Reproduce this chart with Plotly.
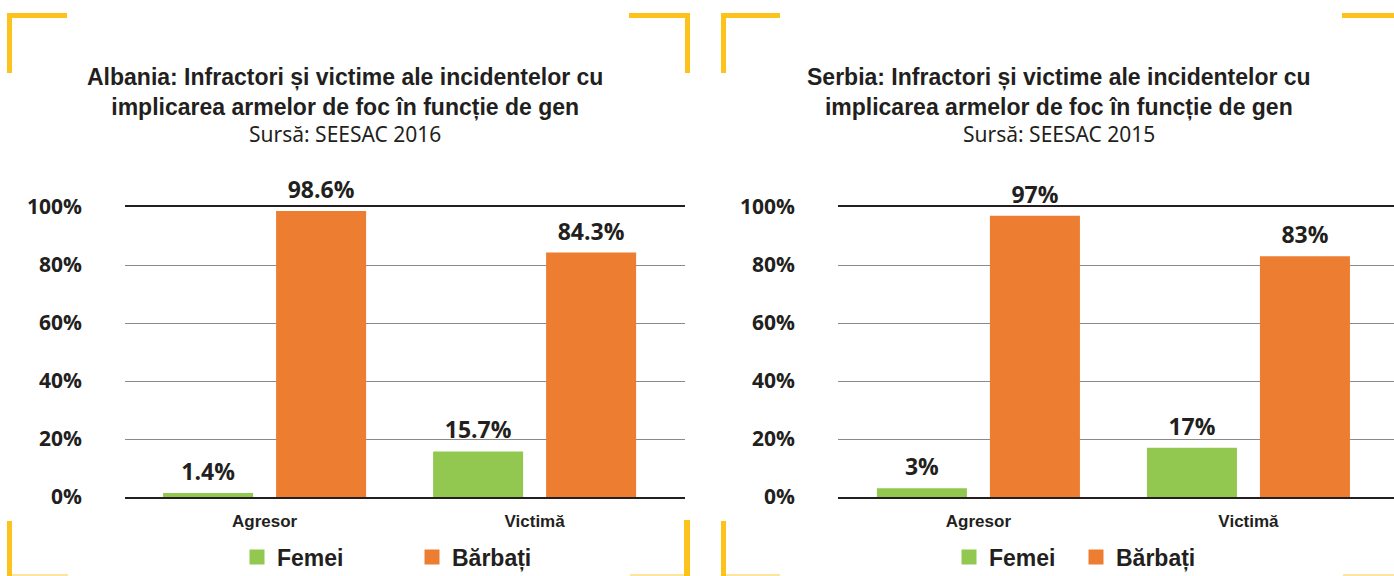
import plotly.graph_objects as go

# ---------------- data ----------------
categories = ["Agresor", "Victimă"]
series_names = ["Femei", "Bărbați"]
albania_femei = [1.4, 15.7]
albania_barbati = [98.6, 84.3]
serbia_femei = [3, 17]
serbia_barbati = [97, 83]
y_ticks = [0, 20, 40, 60, 80, 100]
y_tick_labels = ["0%", "20%", "40%", "60%", "80%", "100%"]

title_albania = "Albania: Infractori și victime ale incidentelor cu<br>implicarea armelor de foc în funcție de gen"
title_serbia = "Serbia: Infractori și victime ale incidentelor cu<br>implicarea armelor de foc în funcție de gen"
source_albania = "Sursă: SEESAC 2016"
source_serbia = "Sursă: SEESAC 2015"

# ---------------- style ----------------
W, H = 1394, 576
GREEN = "#92C84F"
ORANGE = "#ED7D31"
DARK = "#231F20"
GRID = "#8A8A8A"
YELLOW = "#FBC31C"
YELLOW_FAINT = "#FDE4A0"
COND = "Liberation Sans, Arial, sans-serif"
BOLD = "Open Sans, Arial, sans-serif"

def px(x):
    return x / W

def py(y):
    return 1 - y / H

fig = go.Figure()

panels = [
    ("x", "y", albania_femei, albania_barbati, "legend"),
    ("x2", "y2", serbia_femei, serbia_barbati, "legend2"),
]
for xa, ya, fem, bar, lg in panels:
    for name, vals, col in [(series_names[0], fem, GREEN), (series_names[1], bar, ORANGE)]:
        fig.add_trace(go.Bar(
            x=categories, y=vals, name=name, marker=dict(color=col, line=dict(width=0)),
            xaxis=xa, yaxis=ya, showlegend=False, hoverinfo="skip",
            offsetgroup=name,
        ))
    for name, vals in [(series_names[0], fem), (series_names[1], bar)]:
        fig.add_trace(go.Scatter(
            x=categories, y=vals, mode="markers+text",
            text=[f"{v}%" for v in vals], textposition="top center",
            textfont=dict(family=BOLD, size=23, color=DARK, weight="bold"),
            marker=dict(size=10, opacity=0),
            xaxis=xa, yaxis=ya, showlegend=False, hoverinfo="skip",
            offsetgroup=name, cliponaxis=False,
        ))
    for name, col in [(series_names[0], GREEN), (series_names[1], ORANGE)]:
        fig.add_trace(go.Scatter(
            x=[None], y=[None], mode="markers", name=name,
            marker=dict(symbol="square", size=15, color=col),
            xaxis=xa, yaxis=ya, legend=lg, hoverinfo="skip",
        ))

ydom = [py(497), py(207)]
xaxis_common = dict(
    type="category", showgrid=False, showline=True, mirror=True,
    linecolor=DARK, linewidth=1.5, ticks="", ticklabelstandoff=8,
    tickfont=dict(family=COND, size=17, color=DARK, weight="bold"),
    fixedrange=True,
)
yaxis_common = dict(
    range=[0, 100], tickmode="array", tickvals=y_ticks, ticktext=y_tick_labels,
    showgrid=True, gridcolor=GRID, gridwidth=1.2, zeroline=False, showline=False,
    ticks="", ticklabelstandoff=42,
    tickfont=dict(family=BOLD, size=21, color=DARK, weight="bold"),
    fixedrange=True,
)

legend_common = dict(
    orientation="h", xref="container", yref="container", xanchor="left", yanchor="middle",
    font=dict(family=COND, size=23, color=DARK, weight="bold"),
    bgcolor="rgba(0,0,0,0)", borderwidth=0,
)

fig.update_layout(
    width=W, height=H, margin=dict(l=0, r=0, t=0, b=0, autoexpand=False),
    paper_bgcolor="white", plot_bgcolor="white",
    barmode="group", bargap=0.163, bargroupgap=0.2035,
    scattermode="group",
    xaxis=dict(domain=[px(125), px(685)], range=[-0.517, 1.557], anchor="y", **xaxis_common),
    yaxis=dict(domain=ydom, anchor="x", **yaxis_common),
    xaxis2=dict(domain=[px(838), px(1394)], range=[-0.52, 1.539], anchor="y2", **xaxis_common),
    yaxis2=dict(domain=ydom, anchor="x2", **yaxis_common),
    legend=dict(x=px(237), y=py(557), entrywidth=130, **legend_common),
    legend2=dict(x=px(949), y=py(557), entrywidth=82, **legend_common),
    showlegend=True,
)

# titles
for cx, t, s in [(345, title_albania, source_albania), (1059, title_serbia, source_serbia)]:
    fig.add_annotation(x=px(cx), y=py(92), xref="paper", yref="paper", text=t,
                       showarrow=False, xanchor="center", yanchor="middle",
                       font=dict(family=COND, size=23, color=DARK, weight="bold"))
    fig.add_annotation(x=px(cx), y=py(134), xref="paper", yref="paper", text=s,
                       showarrow=False, xanchor="center", yanchor="middle",
                       font=dict(family="Noto Sans, sans-serif", size=21, color=DARK))

# corner brackets (decoration)
rects = [
    (7, 13, 67, 18, YELLOW), (7, 13, 12, 73, YELLOW),
    (629, 13, 690, 18, YELLOW), (685, 13, 690, 73, YELLOW),
    (7, 521, 12, 576, YELLOW), (12, 574, 68, 576, YELLOW_FAINT),
    (684, 520, 690, 576, YELLOW), (630, 574, 684, 576, YELLOW_FAINT),
    (721, 13, 780, 18, YELLOW), (721, 13, 726, 73, YELLOW),
    (1342, 13, 1394, 18, YELLOW),
    (721, 521, 726, 576, YELLOW), (726, 574, 780, 576, YELLOW_FAINT),
    (1343, 574, 1394, 576, YELLOW_FAINT),
]
for x0, y0, x1, y1, c in rects:
    fig.add_shape(type="rect", xref="paper", yref="paper",
                  x0=px(x0), x1=px(x1), y0=py(y1), y1=py(y0),
                  fillcolor=c, line=dict(width=0), layer="above")

fig.write_html("out.html", config={"displayModeBar": False},
               post_script="document.body.style.margin='0';")
